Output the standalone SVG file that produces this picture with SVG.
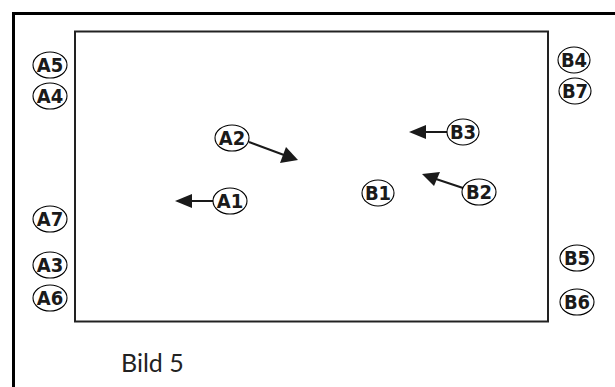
<svg xmlns="http://www.w3.org/2000/svg" width="615" height="387" viewBox="0 0 615 387">
<defs>
<style>
.lbl{fill:none;stroke:#000;stroke-width:1.1}
.t{font-family:"DejaVu Sans Condensed","Liberation Sans Narrow","Liberation Sans",sans-serif;font-weight:bold;font-size:20px;fill:#1a1a1a;text-anchor:middle}
.con{stroke:#1a1a1a;stroke-width:2;fill:none}
</style>
</defs>
<rect width="615" height="387" fill="#fff"/>
<path d="M13.5,387 V13.5 H615" fill="none" stroke="#000" stroke-width="3"/>
<rect x="75" y="31.5" width="473" height="290" fill="none" stroke="#222" stroke-width="2"/>
<g id="connectors">
<line class="con" x1="249" y1="142" x2="284" y2="155"/>
<polygon points="298,160 280,163 286,147" fill="#1a1a1a"/>
<line class="con" x1="213" y1="201" x2="190" y2="201"/>
<polygon points="175,201 192,194 192,208" fill="#1a1a1a"/>
<line class="con" x1="447" y1="132" x2="424" y2="132"/>
<polygon points="409,132 426,125 426,139" fill="#1a1a1a"/>
<line class="con" x1="463" y1="188" x2="436" y2="179"/>
<polygon points="422,174 440,172 434,186" fill="#1a1a1a"/>
</g>
<g id="A5"><ellipse class="lbl" cx="50" cy="65" rx="17" ry="13"/><text class="t" x="50" y="72">A5</text></g>
<g id="A4"><ellipse class="lbl" cx="50" cy="96" rx="17" ry="13"/><text class="t" x="50" y="103">A4</text></g>
<g id="A7"><ellipse class="lbl" cx="50" cy="219" rx="17" ry="13"/><text class="t" x="50" y="226">A7</text></g>
<g id="A3"><ellipse class="lbl" cx="50" cy="265" rx="17" ry="13"/><text class="t" x="50" y="272">A3</text></g>
<g id="A6"><ellipse class="lbl" cx="50" cy="298" rx="17" ry="13"/><text class="t" x="50" y="305">A6</text></g>
<g id="A2"><ellipse class="lbl" cx="232" cy="138" rx="17" ry="13"/><text class="t" x="232" y="145">A2</text></g>
<g id="A1"><ellipse class="lbl" cx="230" cy="201" rx="17" ry="13"/><text class="t" x="230" y="208">A1</text></g>
<g id="B1"><ellipse class="lbl" cx="378" cy="193" rx="16" ry="13"/><text class="t" x="378" y="200">B1</text></g>
<g id="B3"><ellipse class="lbl" cx="463" cy="132" rx="16" ry="13"/><text class="t" x="463" y="139">B3</text></g>
<g id="B2"><ellipse class="lbl" cx="479" cy="192" rx="17" ry="13"/><text class="t" x="479" y="199">B2</text></g>
<g id="B4"><ellipse class="lbl" cx="574" cy="60" rx="16" ry="13"/><text class="t" x="574" y="67">B4</text></g>
<g id="B7"><ellipse class="lbl" cx="575" cy="91" rx="16" ry="13"/><text class="t" x="575" y="98">B7</text></g>
<g id="B5"><ellipse class="lbl" cx="577" cy="258" rx="17" ry="13"/><text class="t" x="577" y="265">B5</text></g>
<g id="B6"><ellipse class="lbl" cx="577" cy="302" rx="17" ry="13"/><text class="t" x="577" y="309">B6</text></g>
<text x="121" y="372" font-family="Lato,'Open Sans',sans-serif" font-weight="400" font-size="25" fill="#222">Bild 5</text>
</svg>
